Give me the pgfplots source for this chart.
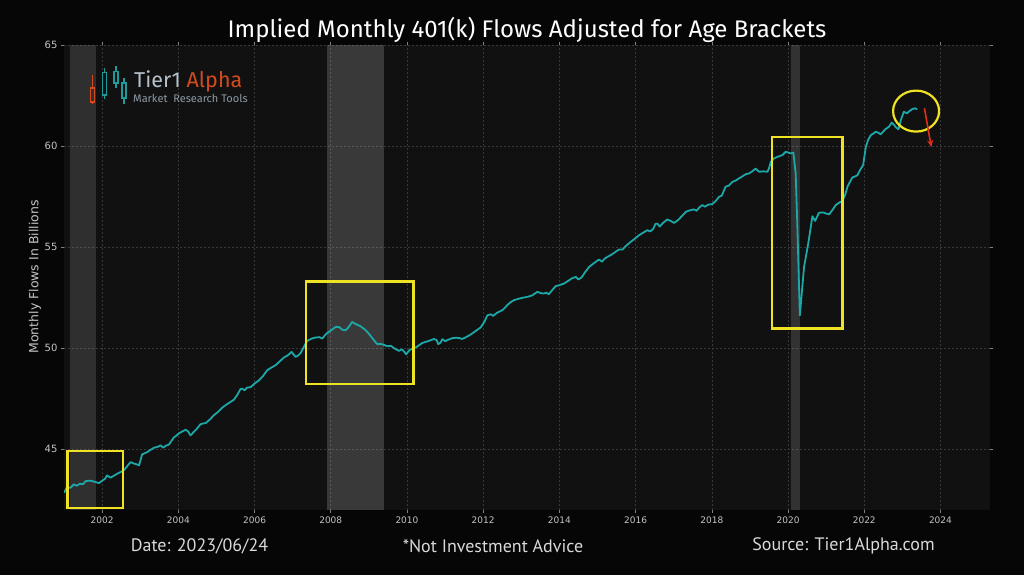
\documentclass[border=0pt]{standalone}
\usepackage{fontspec}
\setmainfont{DejaVu Sans}
\newfontfamily\titlefont{Fira Sans}
\newfontfamily\footfont{PT Sans}
\usepackage{pgfplots}
\pgfplotsset{compat=1.18}
\usetikzlibrary{arrows.meta}
\definecolor{bgcol}{HTML}{060606}
\definecolor{plotbg}{HTML}{111111}
\definecolor{linecol}{HTML}{1CA8A8}
\definecolor{boxcol}{HTML}{EEE222}
\definecolor{arrcol}{HTML}{E0301A}
\definecolor{tickcol}{HTML}{C4C4C4}
\definecolor{logoA}{HTML}{D24A1E}
\definecolor{logoT}{HTML}{B4C0CA}
\definecolor{logoM}{HTML}{8E9AA4}
\definecolor{logoG}{HTML}{1E9A9A}

\pgfplotstableread{
x y
2001.00 42.85
2001.08 43.13
2001.17 43.10
2001.26 43.27
2001.33 43.20
2001.42 43.30
2001.50 43.28
2001.57 43.43
2001.67 43.45
2001.74 43.43
2001.83 43.38
2001.92 43.33
2002.00 43.45
2002.08 43.55
2002.13 43.71
2002.22 43.60
2002.33 43.72
2002.42 43.82
2002.49 43.88
2002.58 43.98
2002.67 44.20
2002.75 44.37
2002.83 44.30
2002.92 44.25
2002.97 44.21
2003.05 44.75
2003.17 44.85
2003.25 44.95
2003.36 45.08
2003.45 45.12
2003.54 45.20
2003.60 45.08
2003.67 45.18
2003.75 45.23
2003.88 45.58
2003.96 45.70
2004.04 45.82
2004.12 45.90
2004.19 45.97
2004.25 45.90
2004.32 45.69
2004.40 45.85
2004.50 46.05
2004.58 46.24
2004.65 46.28
2004.72 46.30
2004.83 46.48
2004.93 46.68
2005.04 46.85
2005.15 47.06
2005.25 47.20
2005.35 47.32
2005.46 47.46
2005.55 47.70
2005.63 47.98
2005.68 48.00
2005.74 47.92
2005.80 48.05
2005.90 48.08
2006.00 48.25
2006.12 48.42
2006.22 48.62
2006.33 48.91
2006.42 49.02
2006.55 49.16
2006.65 49.33
2006.77 49.54
2006.88 49.66
2006.97 49.82
2007.08 49.57
2007.15 49.65
2007.21 49.77
2007.29 50.05
2007.38 50.36
2007.50 50.48
2007.60 50.53
2007.70 50.55
2007.78 50.48
2007.85 50.65
2007.91 50.76
2008.02 50.90
2008.13 51.06
2008.22 51.05
2008.30 50.92
2008.39 50.89
2008.47 51.05
2008.56 51.30
2008.65 51.20
2008.78 51.09
2008.88 50.95
2008.96 50.81
2009.05 50.60
2009.14 50.38
2009.22 50.20
2009.30 50.22
2009.38 50.18
2009.48 50.10
2009.58 50.12
2009.68 49.98
2009.79 49.87
2009.86 49.95
2009.92 49.85
2009.98 49.70
2010.06 49.90
2010.14 49.98
2010.24 50.05
2010.32 50.15
2010.40 50.26
2010.50 50.32
2010.60 50.38
2010.71 50.46
2010.78 50.40
2010.82 50.20
2010.88 50.28
2010.93 50.45
2011.00 50.35
2011.08 50.42
2011.19 50.50
2011.30 50.52
2011.38 50.50
2011.45 50.46
2011.55 50.55
2011.63 50.63
2011.71 50.73
2011.82 50.88
2011.93 51.02
2012.03 51.30
2012.11 51.63
2012.20 51.68
2012.26 51.60
2012.36 51.75
2012.50 51.88
2012.57 52.00
2012.63 52.13
2012.72 52.28
2012.81 52.38
2012.93 52.45
2013.07 52.51
2013.18 52.55
2013.29 52.62
2013.42 52.79
2013.52 52.72
2013.60 52.71
2013.66 52.75
2013.72 52.67
2013.80 52.85
2013.90 53.07
2014.00 53.12
2014.12 53.20
2014.22 53.32
2014.32 53.45
2014.43 53.53
2014.50 53.40
2014.58 53.50
2014.68 53.78
2014.78 54.02
2014.90 54.20
2015.04 54.39
2015.12 54.28
2015.18 54.42
2015.26 54.52
2015.36 54.62
2015.46 54.75
2015.56 54.88
2015.66 54.89
2015.74 55.05
2015.87 55.26
2015.98 55.42
2016.09 55.59
2016.20 55.72
2016.31 55.84
2016.38 55.78
2016.46 55.90
2016.52 56.15
2016.57 56.17
2016.63 56.02
2016.72 56.20
2016.83 56.37
2016.92 56.30
2017.01 56.20
2017.12 56.35
2017.22 56.55
2017.32 56.75
2017.42 56.82
2017.53 56.87
2017.60 56.80
2017.68 56.98
2017.75 57.08
2017.82 57.00
2017.90 57.10
2018.01 57.13
2018.10 57.28
2018.19 57.49
2018.26 57.55
2018.36 57.99
2018.45 58.05
2018.54 58.23
2018.63 58.30
2018.71 58.40
2018.80 58.50
2018.89 58.61
2018.98 58.65
2019.06 58.75
2019.15 58.89
2019.24 58.73
2019.35 58.75
2019.46 58.73
2019.50 58.90
2019.55 59.22
2019.63 59.39
2019.74 59.48
2019.85 59.55
2019.94 59.72
2020.00 59.68
2020.07 59.64
2020.14 59.67
2020.20 58.65
2020.24 56.34
2020.31 51.63
2020.42 54.02
2020.53 55.18
2020.64 56.53
2020.71 56.30
2020.81 56.70
2020.92 56.72
2021.00 56.66
2021.08 56.63
2021.17 56.85
2021.25 57.08
2021.34 57.20
2021.43 57.29
2021.50 57.60
2021.56 57.99
2021.63 58.25
2021.69 58.45
2021.76 58.50
2021.82 58.56
2021.90 58.85
2021.97 59.06
2022.04 59.94
2022.10 60.30
2022.17 60.54
2022.24 60.62
2022.30 60.71
2022.37 60.66
2022.43 60.58
2022.49 60.70
2022.55 60.83
2022.65 60.96
2022.72 61.16
2022.78 61.05
2022.83 60.93
2022.90 60.83
2022.96 61.29
2023.04 61.70
2023.12 61.62
2023.18 61.72
2023.25 61.82
2023.33 61.87
2023.39 61.82
}\flows

\begin{document}
\begin{tikzpicture}[x=1pt,y=1pt]
\fill[bgcol] (0,0) rectangle (1024,575);
\begin{axis}[
  at={(64pt,65pt)}, anchor=south west,
  width=926pt, height=465pt, scale only axis,
  xmin=2001, xmax=2025.3, ymin=42, ymax=65,
  axis background/.style={fill=plotbg},
  axis line style={draw=none},
  xtick={2002,2004,...,2024}, ytick={45,50,...,65},
  xticklabel style={/pgf/number format/1000 sep={}, font=\fontsize{9}{10}\selectfont, text=tickcol},
  yticklabel style={font=\fontsize{10}{11}\selectfont, text=tickcol},
  /pgf/number format/assume math mode=true,
  tick align=outside, major tick length=3pt,
  tick style={draw=gray, line width=0.6pt},
  grid=major,
  major grid style={dash pattern=on 2pt off 2pt, draw=white!22!black, line width=0.5pt},
  clip=true,
]
\fill[white, opacity=0.13] (axis cs:2001.17,42) rectangle (axis cs:2001.83,65);
\fill[white, opacity=0.17] (axis cs:2007.91,42) rectangle (axis cs:2009.40,65);
\fill[white, opacity=0.14] (axis cs:2020.08,42) rectangle (axis cs:2020.31,65);
\addplot[linecol, line width=1.8pt, line join=round] table[x=x,y=y] {\flows};
\draw[boxcol, line width=2.2pt] (axis cs:2001.09,42.11) rectangle (axis cs:2002.55,44.92);
\draw[boxcol, line width=2.2pt] (axis cs:2007.36,48.22) rectangle (axis cs:2010.17,53.30);
\draw[boxcol, line width=2.2pt] (axis cs:2019.58,50.98) rectangle (axis cs:2021.43,60.46);
\draw[boxcol, line width=2.2pt] (axis cs:2023.36,61.73) ellipse [x radius=23pt, y radius=20.5pt];
\draw[arrcol, line width=1.6pt, -{Stealth[length=7pt,width=6pt]}] (axis cs:2023.58,61.87) -- (axis cs:2023.76,59.95);
\end{axis}
% title and footer
\node[text=white, font=\titlefont\fontsize{24}{28}\selectfont] at (527,545) {Implied Monthly 401(k) Flows Adjusted for Age Brackets};
\node[text=tickcol, rotate=90, font=\fontsize{12.5}{14}\selectfont] at (35,298) {Monthly Flows In Billions};
\node[text=white!85!black, font=\footfont\fontsize{18}{22}\selectfont] at (199.5,29) {Date: 2023/06/24};
\node[text=white!85!black, font=\footfont\fontsize{18}{22}\selectfont] at (493,29) {*Not Investment Advice};
\node[text=white!85!black, font=\footfont\fontsize{18}{22}\selectfont] at (843.5,29) {Source: Tier1Alpha.com};
% logo
\draw[logoA, line width=1.2pt] (92.7,575-75) -- (92.7,575-88) (92.7,575-102) -- (92.7,575-104);
\draw[logoA, line width=1.2pt] (90.7,575-88) rectangle (94.7,575-102);
\draw[logoG, line width=1.2pt] (104.3,575-68) -- (104.3,575-72.7) (104.3,575-95) -- (104.3,575-99);
\draw[logoG, line width=1.2pt] (102.3,575-72.7) rectangle (106.3,575-95);
\draw[logoG, line width=1.2pt] (116,575-66) -- (116,575-71.7) (116,575-83) -- (116,575-88);
\draw[logoG, line width=1.2pt] (114,575-71.7) rectangle (118,575-83);
\draw[logoG, line width=1.2pt] (124,575-78) -- (124,575-83) (124,575-98) -- (124,575-104);
\draw[logoG, line width=1.2pt] (122,575-83) rectangle (126,575-98);
\node[anchor=base west, inner sep=0pt, font=\titlefont\fontsize{21.5}{24}\selectfont] at (134,575-88) {\textcolor{logoT}{Tier1} \textcolor{logoA}{Alpha}};
\node[anchor=base west, inner sep=0pt, text=logoM, font=\titlefont\fontsize{11}{13}\selectfont] at (133,575-103) {Market\ \ Research Tools};
\end{tikzpicture}
\end{document}
